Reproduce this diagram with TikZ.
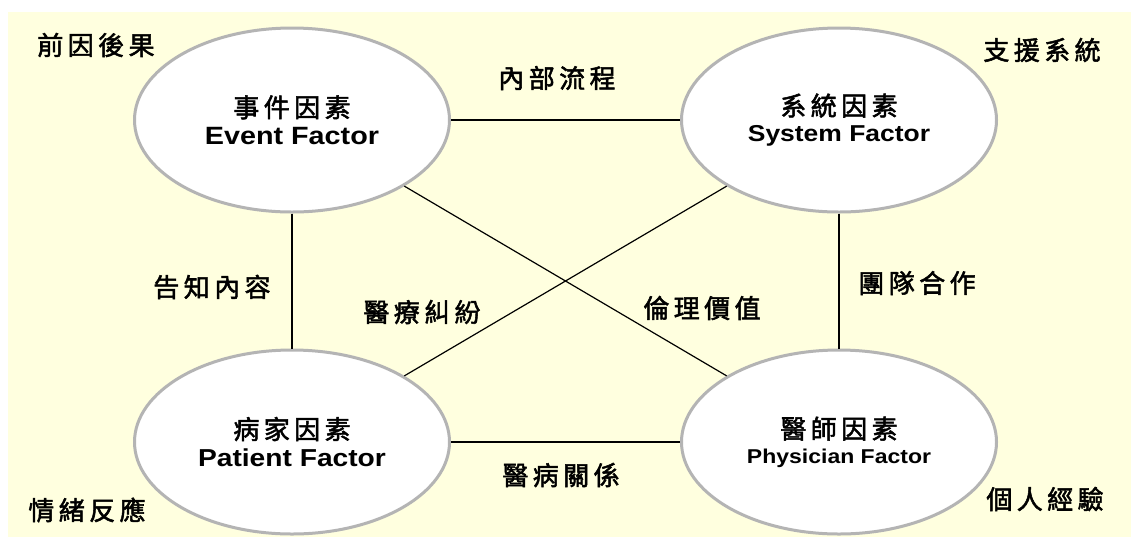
\documentclass[tikz,border=0pt]{standalone}
\usepackage{fontspec}
\usetikzlibrary{shapes.geometric}
\newfontfamily\cjk[LetterSpace=17,FakeBold=2]{Noto Sans CJK TC}
\newfontfamily\enfont[FakeStretch=1.15]{Liberation Sans}
\definecolor{paper}{RGB}{255,255,223}
\definecolor{rim}{RGB}{180,180,180}
\begin{document}
\begin{tikzpicture}[x=1pt,y=-1pt,
  factor/.style={ellipse,draw=rim,line width=3pt,fill=white,
    minimum width=315pt,minimum height=184pt,inner sep=0pt,align=center},
  link/.style={draw=black,line width=1.2pt},
  lbl/.style={inner sep=0pt,font=\cjk\fontsize{26}{30}\selectfont}]
\useasboundingbox (0,0) rectangle (1134,539);
\fill[white] (0,0) rectangle (1134,539);
\fill[paper] (8,12) rectangle (1131,537);

% the four factors
\node[factor] (ev) at (292,120) {{\cjk\fontsize{26}{30}\selectfont 事件因素}\\[7pt]{\enfont\bfseries\fontsize{25}{28}\selectfont Event Factor}};
\node[factor] (sy) at (839,120) {{\cjk\fontsize{26}{30}\selectfont 系統因素}\\[7pt]{\enfont\bfseries\fontsize{23}{28}\selectfont System Factor}};
\node[factor] (pa) at (292,442) {{\cjk\fontsize{26}{30}\selectfont 病家因素}\\[7pt]{\enfont\bfseries\fontsize{24.5}{28}\selectfont Patient Factor}};
\node[factor] (ph) at (839,442) {{\cjk\fontsize{26}{30}\selectfont 醫師因素}\\[7pt]{\enfont\bfseries\fontsize{20}{26}\selectfont Physician Factor}};

% relations between factors
\draw[link] (ev) -- (sy);
\draw[link] (pa) -- (ph);
\draw[link] (ev) -- (pa);
\draw[link] (sy) -- (ph);
\draw[link] (ev) -- (ph);
\draw[link] (sy) -- (pa);

% relation labels
\node[lbl] (l1) at (557,78) {內部流程};
\node[lbl] (l2) at (212,287) {告知內容};
\node[lbl] (l3) at (422,312) {醫療糾紛};
\node[lbl] (l4) at (702,308) {倫理價值};
\node[lbl] (l5) at (917,283) {團隊合作};
\node[lbl] (l6) at (561,475) {醫病關係};

% corner labels
\node[lbl] (c1) at (96,45) {前因後果};
\node[lbl] (c2) at (1042,50) {支援系統};
\node[lbl] (c3) at (87,510) {情緒反應};
\node[lbl] (c4) at (1045,499) {個人經驗};
\end{tikzpicture}
\end{document}
